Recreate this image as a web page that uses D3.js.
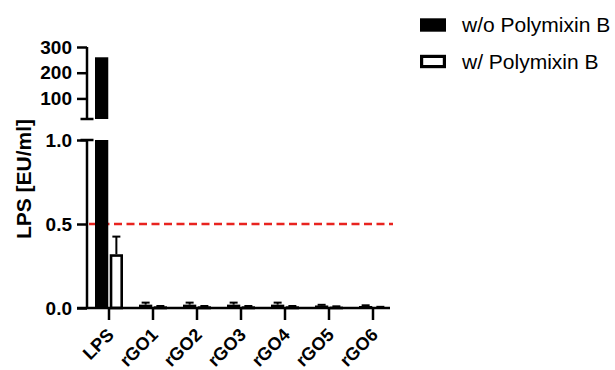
<!DOCTYPE html>
<html>
<head>
<meta charset="utf-8">
<script src="https://cdn.jsdelivr.net/npm/d3@7"></script>
<style>
  html, body { margin: 0; padding: 0; background: #fff; }
  svg { display: block; font-family: "Liberation Sans", Arial, Helvetica, sans-serif; }
</style>
</head>
<body>
<svg id="chart" width="615" height="370"></svg>
<script>
// Endotoxin (LPS) levels, with and without Polymixin B
const categories = ["LPS", "rGO1", "rGO2", "rGO3", "rGO4", "rGO5", "rGO6"];
const series = ["w/o Polymixin B", "w/ Polymixin B"];
const withoutPMB = [260, 0.02, 0.02, 0.02, 0.02, 0.015, 0.012];
const withoutPMBErr = [0, 0.012, 0.012, 0.012, 0.012, 0.004, 0.004];
const withPMB = [0.32, 0.01, 0.01, 0.01, 0.01, 0.008, 0.005];
const withPMBErr = [0.105, 0.002, 0.002, 0.002, 0.002, 0.002, 0.002];
const lowerTicks = [0.0, 0.5, 1.0];
const upperTicks = [100, 200, 300];
const thresholdValue = 0.5;

const svg = d3.select("#chart");
const ink = "#000";
const axisWidth = 2.5;

// split y axis: lower segment 0..1, upper segment 20..300
const yLow = d3.scaleLinear().domain([0, 1]).range([308, 140]);
const yHigh = d3.scaleLinear().domain([20, 300]).range([119, 47]);

const x = d3.scaleBand().domain(categories).range([87, 395]).paddingInner(0).paddingOuter(0);
const xSub = d3.scaleBand().domain(series).range([-14, 14]).paddingInner(0.1);

const axisX = 87;

// bar data rows
const rows = categories.map((c, i) => ({
  cat: c,
  vals: [
    { s: series[0], v: withoutPMB[i], e: withoutPMBErr[i] },
    { s: series[1], v: withPMB[i], e: withPMBErr[i] }
  ]
}));

// threshold line
svg.append("line")
  .attr("x1", axisX + 2).attr("x2", 393)
  .attr("y1", yLow(thresholdValue)).attr("y2", yLow(thresholdValue))
  .attr("stroke", "#e8231f").attr("stroke-width", 2.5)
  .attr("stroke-dasharray", "8,4.5");

const groups = svg.append("g").selectAll("g")
  .data(rows).join("g")
  .attr("transform", d => `translate(${x(d.cat) + x.bandwidth() / 2},0)`);

const sw = 2.6;
// error bars (drawn before bars so the bar covers the lower half)
groups.each(function (d) {
  const g = d3.select(this);
  d.vals.forEach(b => {
    if (!b.e) return;
    const cx = xSub(b.s) + xSub.bandwidth() / 2;
    const top = b.v + b.e;
    const y1 = top <= 1 ? yLow(top) : yHigh(top);
    const y0 = b.v <= 1 ? yLow(b.v) : yHigh(b.v);
    g.append("line").attr("x1", cx).attr("x2", cx).attr("y1", y1).attr("y2", y0)
      .attr("stroke", ink).attr("stroke-width", 2);
    g.append("line").attr("x1", cx - 4).attr("x2", cx + 4).attr("y1", y1).attr("y2", y1)
      .attr("stroke", ink).attr("stroke-width", 2);
  });
});

groups.each(function (d) {
  const g = d3.select(this);
  d.vals.forEach((b, j) => {
    const bx = xSub(b.s), bw = xSub.bandwidth();
    const filled = j === 0;
    const inset = filled ? 0 : sw / 2;
    // lower segment
    const vLow = Math.min(b.v, 1);
    const yt = yLow(vLow);
    g.append("rect")
      .attr("x", bx + inset).attr("width", bw - 2 * inset)
      .attr("y", yt + (filled ? 0 : inset))
      .attr("height", Math.max(0, yLow(0) - yt - (filled ? 0 : inset)))
      .attr("fill", filled ? ink : "#fff")
      .attr("stroke", filled ? "none" : ink)
      .attr("stroke-width", sw);
    // upper segment
    if (b.v > yHigh.domain()[0]) {
      const yu = yHigh(b.v);
      g.append("rect")
        .attr("x", bx).attr("width", bw)
        .attr("y", yu).attr("height", yHigh.range()[0] - yu)
        .attr("fill", filled ? ink : "#fff");
    }
  });
});

// x axis
const xAxis = svg.append("g")
  .attr("transform", `translate(0,${yLow(0)})`)
  .call(d3.axisBottom(x).tickSizeInner(12).tickSizeOuter(0).tickPadding(6));
xAxis.select(".domain").attr("d", `M${axisX - 10},0H390`).attr("stroke", ink).attr("stroke-width", axisWidth);
xAxis.selectAll(".tick line").attr("stroke", ink).attr("stroke-width", axisWidth);
xAxis.selectAll(".tick text")
  .attr("font-size", 18).attr("font-weight", "bold").attr("fill", ink)
  .attr("text-anchor", "end")
  .attr("x", 0).attr("y", 0).attr("dy", 0)
  .attr("transform", "translate(6,28) rotate(-45)");

// y axis: lower segment
const yAxisLow = svg.append("g")
  .attr("transform", `translate(${axisX},0)`)
  .call(d3.axisLeft(yLow).tickValues(lowerTicks).tickFormat(d3.format(".1f")).tickSizeInner(10).tickSizeOuter(0).tickPadding(5));
yAxisLow.select(".domain").attr("stroke", ink).attr("stroke-width", axisWidth)
  .attr("d", `M0,${yLow(0)}V${yLow(1)}`);
yAxisLow.selectAll(".tick line").attr("stroke", ink).attr("stroke-width", axisWidth);
yAxisLow.selectAll(".tick text").attr("font-size", 19).attr("font-weight", "bold").attr("fill", ink);

// y axis: upper segment
const yAxisHigh = svg.append("g")
  .attr("transform", `translate(${axisX},0)`)
  .call(d3.axisLeft(yHigh).tickValues(upperTicks).tickSizeInner(10).tickSizeOuter(0).tickPadding(5));
yAxisHigh.select(".domain").attr("stroke", ink).attr("stroke-width", axisWidth)
  .attr("d", `M0,${yHigh.range()[0]}V${yHigh(300)}`);
yAxisHigh.selectAll(".tick line").attr("stroke", ink).attr("stroke-width", axisWidth);
yAxisHigh.selectAll(".tick text").attr("font-size", 19).attr("font-weight", "bold").attr("fill", ink);

// axis break markers
[yHigh.range()[0], yLow(1)].forEach(yy => {
  svg.append("line").attr("x1", axisX - 6.5).attr("x2", axisX + 6.5)
    .attr("y1", yy).attr("y2", yy)
    .attr("stroke", ink).attr("stroke-width", axisWidth);
});

// y title
svg.append("text")
  .attr("transform", "translate(31,179) rotate(-90)")
  .attr("text-anchor", "middle")
  .attr("font-size", 21).attr("font-weight", "bold").attr("fill", ink)
  .text("LPS [EU/ml]");

// legend
const legend = svg.append("g").attr("transform", "translate(420,25)");
series.forEach((s, i) => {
  const row = legend.append("g").attr("transform", `translate(0,${i * 36.5})`);
  if (i === 0) {
    row.append("rect").attr("x", 0).attr("y", -6.7).attr("width", 26).attr("height", 13.4).attr("fill", ink);
  } else {
    row.append("rect").attr("x", 1.6).attr("y", -5.1).attr("width", 22.8).attr("height", 10.2)
      .attr("fill", "#fff").attr("stroke", ink).attr("stroke-width", 3.2);
  }
  row.append("text").attr("x", 42).attr("y", 0).attr("dy", "0.35em")
    .attr("font-size", 21).attr("fill", ink).text(s);
});
</script>
</body>
</html>
